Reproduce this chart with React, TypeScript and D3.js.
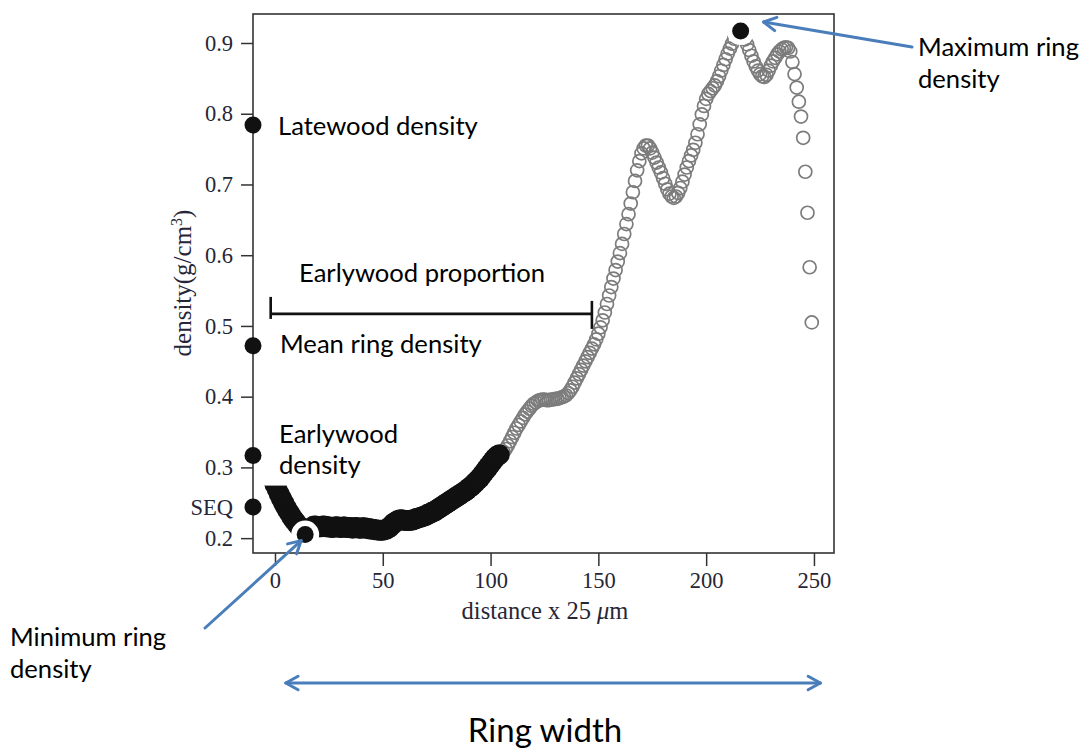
import React, { useEffect, useRef } from "react";
import * as d3 from "d3";

// density profile, one value per distance step (x 25 um)
const earlyStart = -1;
const earlyDensity = [
  0.283, 0.276, 0.269, 0.262, 0.256, 0.25, 0.244, 0.239, 0.234, 0.229,
  0.225, 0.221, 0.217, 0.213, 0.209, 0.205, 0.208, 0.212, 0.215, 0.217,
  0.217, 0.216, 0.216, 0.217, 0.217, 0.216, 0.216, 0.215, 0.215, 0.216,
  0.216, 0.215, 0.215, 0.216, 0.215, 0.215, 0.215, 0.214, 0.215, 0.215,
  0.214, 0.214, 0.215, 0.214, 0.214, 0.213, 0.213, 0.212, 0.212, 0.211,
  0.211, 0.211, 0.212, 0.213, 0.215, 0.218, 0.221, 0.223, 0.225, 0.226,
  0.226, 0.225, 0.225, 0.225, 0.225, 0.226, 0.227, 0.228, 0.229, 0.23,
  0.231, 0.232, 0.234, 0.235, 0.237, 0.238, 0.24, 0.242, 0.244, 0.246,
  0.248, 0.25, 0.252, 0.254, 0.256, 0.258, 0.26, 0.262, 0.264, 0.266,
  0.268, 0.271, 0.273, 0.276, 0.279, 0.282, 0.285, 0.289, 0.293, 0.297,
  0.301, 0.305, 0.309, 0.313, 0.316, 0.318,
];
const lateStart = 105;
const lateDensity = [
  0.319, 0.322, 0.326, 0.331, 0.337, 0.343, 0.349, 0.355, 0.36, 0.365,
  0.37, 0.375, 0.379, 0.383, 0.387, 0.39, 0.392, 0.394, 0.395, 0.396,
  0.396, 0.395, 0.395, 0.396, 0.396, 0.397, 0.397, 0.398, 0.399, 0.4,
  0.402, 0.405, 0.409, 0.414, 0.42, 0.426, 0.432, 0.438, 0.444, 0.45,
  0.456, 0.462, 0.468, 0.474, 0.481, 0.489, 0.498, 0.508, 0.519, 0.531,
  0.543, 0.555, 0.567, 0.579, 0.591, 0.603, 0.616, 0.63, 0.644, 0.658,
  0.673, 0.689, 0.705, 0.72, 0.733, 0.744, 0.751, 0.755, 0.755, 0.751,
  0.745, 0.738, 0.731, 0.724, 0.717, 0.709, 0.701, 0.693, 0.687, 0.683,
  0.681, 0.683, 0.688, 0.695, 0.704, 0.714, 0.724, 0.733, 0.741, 0.749,
  0.759, 0.771, 0.785, 0.799, 0.811, 0.821, 0.828, 0.832, 0.836, 0.84,
  0.846, 0.853, 0.861, 0.869, 0.877, 0.885, 0.892, 0.899, 0.906, 0.911,
  0.915, 0.917, 0.912, 0.905, 0.898, 0.89, 0.882, 0.874, 0.867, 0.861,
  0.856, 0.853, 0.852, 0.855, 0.861, 0.868, 0.874, 0.879, 0.884, 0.888,
  0.891, 0.893, 0.894, 0.893, 0.888, 0.873, 0.856, 0.837, 0.817, 0.796,
  0.766, 0.718, 0.66, 0.583, 0.505,
];

const minPoint = { dist: 14, density: 0.205 };
const maxPoint = { dist: 216, density: 0.917 };

// summary values marked on the y axis
const axisLabels = ["Latewood density", "Mean ring density", "Earlywood", "SEQ"];
const axisValues = [0.784, 0.472, 0.317, 0.244];

const propStart = -2;
const propEnd = 147;
const propLevel = 0.517;

const xTicks = [0, 50, 100, 150, 200, 250];
const yTicks = [0.2, 0.3, 0.4, 0.5, 0.6, 0.7, 0.8, 0.9];

const W = 1085;
const H = 749;
const box = { left: 253, top: 14, right: 834, bottom: 553 };
const BLUE = "#4a7ebb";
const SERIF = "'Liberation Serif', 'Times New Roman', serif";
const SANS = "Lato, 'Open Sans', sans-serif";
const TICK_COLOR = "#262636";

const arrowHead = (x1: number, y1: number, x2: number, y2: number) => {
  const a = Math.atan2(y2 - y1, x2 - x1);
  const len = 14;
  const spread = 0.5;
  const p1 = [x2 - len * Math.cos(a - spread), y2 - len * Math.sin(a - spread)];
  const p2 = [x2 - len * Math.cos(a + spread), y2 - len * Math.sin(a + spread)];
  return `M${p1[0]},${p1[1]}L${x2},${y2}L${p2[0]},${p2[1]}`;
};

const App = () => {
  const axisRef = useRef<SVGGElement>(null);

  const x = d3.scaleLinear().domain([-10.2, 259.3]).range([box.left, box.right]);
  const y = d3.scaleLinear().domain([0.179, 0.941]).range([box.bottom, box.top]);

  const early = earlyDensity.map((d, i) => ({ dist: earlyStart + i, density: d }));
  const late = lateDensity.map((d, i) => ({ dist: lateStart + i, density: d }));

  useEffect(() => {
    const g = d3.select(axisRef.current);
    g.selectAll("*").remove();

    const yAxis = g
      .append("g")
      .attr("transform", `translate(${box.left},0)`)
      .call(d3.axisLeft(y).tickValues(yTicks).tickSize(12).tickPadding(8).tickFormat(d3.format(".1f")));
    const xAxis = g
      .append("g")
      .attr("transform", `translate(0,${box.bottom})`)
      .call(d3.axisBottom(x).tickValues(xTicks).tickSize(13).tickPadding(6).tickFormat(d3.format("d")));

    [yAxis, xAxis].forEach((a) => {
      a.select(".domain").remove();
      a.selectAll(".tick line").attr("stroke", "#333").attr("stroke-width", 1.5);
      a.selectAll(".tick text")
        .attr("fill", TICK_COLOR)
        .style("font-family", SERIF)
        .style("font-size", "22.5px");
    });
  }, []);

  const xl = box.left;
  const minX = x(minPoint.dist);
  const minY = y(minPoint.density);
  const maxX = x(maxPoint.dist);
  const maxY = y(maxPoint.density);
  const ringY = 683;

  return (
    <svg width={W} height={H} style={{ position: "absolute", left: 0, top: 0, background: "#fff" }}>
      {/* frame */}
      <rect
        x={box.left}
        y={box.top}
        width={box.right - box.left}
        height={box.bottom - box.top}
        fill="none"
        stroke="#333"
        strokeWidth={1.6}
      />
      <g ref={axisRef} />

      {/* latewood part: open grey circles */}
      <g>
        {late.map((d) => (
          <circle
            key={d.dist}
            cx={x(d.dist)}
            cy={y(d.density)}
            r={6.5}
            fill="none"
            stroke="#7c7c7c"
            strokeWidth={1.7}
          />
        ))}
      </g>
      {/* earlywood part: filled black */}
      <g>
        {early.map((d) => (
          <circle key={d.dist} cx={x(d.dist)} cy={y(d.density)} r={10.5} fill="#111" />
        ))}
      </g>

      {/* white label box of "Earlywood density" covers the start of the curve */}
      <rect x={262} y={412} width={143} height={y(0.275) - 412 + 0.5} fill="#fff" />

      {/* highlighted min / max */}
      {[
        [minX, minY],
        [maxX, maxY],
      ].map(([cx, cy], i) => (
        <g key={i}>
          <circle cx={cx} cy={cy} r={14} fill="#fff" />
          <circle cx={cx} cy={cy} r={8.5} fill="#111" />
        </g>
      ))}

      {/* points on the y axis */}
      {axisValues.map((v, i) => (
        <circle key={axisLabels[i]} cx={xl} cy={y(v)} r={8.5} fill="#111" />
      ))}
      <text
        x={233}
        y={y(axisValues[3])}
        dy="0.35em"
        textAnchor="end"
        fill={TICK_COLOR}
        style={{ fontFamily: SERIF, fontSize: 22.5 }}
      >
        SEQ
      </text>

      {/* axis titles */}
      <text
        transform={`translate(191,283) rotate(-90)`}
        textAnchor="middle"
        fill={TICK_COLOR}
        style={{ fontFamily: SERIF, fontSize: 25 }}
      >
        density(g/cm<tspan dy="-9" style={{ fontSize: 16 }}>3</tspan>
        <tspan dy="9">)</tspan>
      </text>
      <text x={545} y={619} textAnchor="middle" fill={TICK_COLOR} style={{ fontFamily: SERIF, fontSize: 24.5 }}>
        distance x 25 <tspan style={{ fontStyle: "italic" }}>μ</tspan>m
      </text>

      {/* annotations */}
      <g style={{ fontFamily: SANS, fontSize: 25.6 }} fill="#000">
        <text x={xl + 25} y={y(axisValues[0]) + 10}>{axisLabels[0]}</text>
        <text x={xl + 27} y={y(axisValues[1]) + 7}>{axisLabels[1]}</text>
        <text x={xl + 26} y={y(axisValues[2]) - 12}>{axisLabels[2]}</text>
        <text x={xl + 26} y={y(axisValues[2]) + 19}>density</text>
        <text x={299} y={282}>
          Earlywood proportion
        </text>
        <text x={918} y={56}>Maximum ring</text>
        <text x={918} y={88}>density</text>
        <text x={10} y={646}>Minimum ring</text>
        <text x={10} y={678}>density</text>
        <text x={545} y={742} textAnchor="middle" style={{ fontSize: 33 }}>
          Ring width
        </text>
      </g>

      {/* earlywood proportion bracket */}
      <g stroke="#111" strokeWidth={2.6} fill="none">
        <line x1={x(propStart)} x2={x(propEnd)} y1={y(propLevel)} y2={y(propLevel)} />
        <line x1={x(propStart)} x2={x(propStart)} y1={y(propLevel) - 17} y2={y(propLevel) + 5} />
        <line x1={x(propEnd)} x2={x(propEnd)} y1={y(propLevel) - 13} y2={y(propLevel) + 15} />
      </g>

      {/* blue arrows */}
      <g stroke={BLUE} strokeWidth={3} fill="none" strokeLinecap="round" strokeLinejoin="round">
        <line x1={205} y1={628} x2={minX - 4} y2={minY + 6} />
        <path d={arrowHead(205, 628, minX - 4, minY + 6)} />
        <line x1={912} y1={47} x2={maxX + 23} y2={maxY - 9} />
        <path d={arrowHead(912, 47, maxX + 23, maxY - 9)} />
        <line x1={x(5)} y1={ringY} x2={x(253)} y2={ringY} />
        <path d={arrowHead(x(253), ringY, x(5), ringY)} />
        <path d={arrowHead(x(5), ringY, x(253), ringY)} />
      </g>
    </svg>
  );
};

export default App;
